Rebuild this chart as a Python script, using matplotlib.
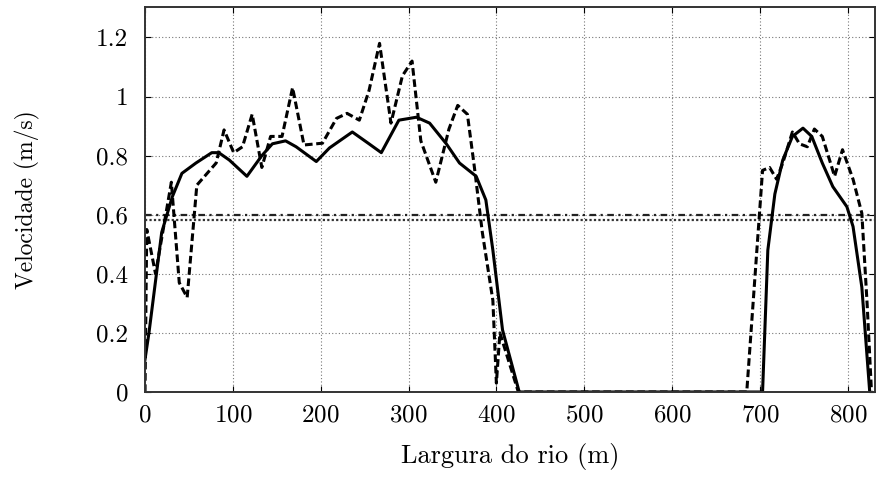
import matplotlib
matplotlib.use('Agg')
import matplotlib.pyplot as plt

plt.rcParams['font.family'] = 'cmr10'
plt.rcParams['axes.formatter.use_mathtext'] = True

# solid curve (smooth)
x_solid = [0, 4.5, 19, 31, 42, 58, 76, 84, 96, 116, 133, 145, 160, 172, 195, 210,
           236, 255, 269, 289, 309, 324, 343, 358, 377, 388, 396, 407, 426,
           700, 703, 709, 717, 726, 737, 749, 759, 771, 783, 799, 806, 816, 825]
y_solid = [0.11, 0.2, 0.54, 0.66, 0.74, 0.775, 0.81, 0.81, 0.785, 0.73, 0.80, 0.84, 0.85, 0.83, 0.78, 0.826,
           0.88, 0.84, 0.81, 0.92, 0.93, 0.91, 0.84, 0.775, 0.73, 0.65, 0.48, 0.21, 0.0,
           0.0, 0.0, 0.48, 0.67, 0.785, 0.865, 0.893, 0.865, 0.775, 0.695, 0.627, 0.56, 0.355, 0.0]

# dashed curve (measured)
x_dash = [0, 2, 12, 30, 39, 48, 59, 81, 90, 101, 111, 122, 133, 143, 156, 168, 181, 202,
          218, 230, 244, 255, 267, 280, 293, 304, 314, 331, 346, 356, 367, 375, 384,
          396, 400, 404, 425, 685, 703, 711, 719, 726, 737, 745, 754, 762, 771, 785,
          794, 806, 816, 822, 827]
y_dash = [0.0, 0.55, 0.40, 0.71, 0.37, 0.32, 0.70, 0.775, 0.887, 0.81, 0.83, 0.94, 0.76, 0.865, 0.865, 1.03, 0.836, 0.842,
          0.926, 0.943, 0.92, 1.02, 1.18, 0.91, 1.07, 1.12, 0.85, 0.71, 0.89, 0.97, 0.94, 0.76, 0.54,
          0.31, 0.03, 0.2, 0.0, 0.0, 0.75, 0.76, 0.72, 0.775, 0.88, 0.84, 0.83, 0.89, 0.865, 0.73,
          0.82, 0.72, 0.605, 0.3, 0.0]

ref_dashdot = 0.6
ref_dotted = 0.583

xticks = [0, 100, 200, 300, 400, 500, 600, 700, 800]
yticks = [0, 0.2, 0.4, 0.6, 0.8, 1.0, 1.2]
yticklabels = ['0', '0.2', '0.4', '0.6', '0.8', '1', '1.2']

fig = plt.figure(figsize=(8.76, 4.79), dpi=100)
ax = fig.add_axes([145/876, 1 - 392/479, 730/876, (392 - 7.3)/479])

ax.grid(True, linestyle=(0, (1, 2)), color='#777777', linewidth=0.8)
ax.axhline(ref_dotted, color='#333333', linestyle=(0, (1, 1)), linewidth=1.6)
ax.axhline(ref_dashdot, color='#222222', linestyle=(0, (3, 2, 1, 2)), linewidth=1.6)
ax.plot(x_dash, y_dash, color='black', linestyle=(0, (2.5, 1.2)), linewidth=2.2)
ax.plot(x_solid, y_solid, color='black', linestyle='-', linewidth=2.2)

ax.set_xlim(0, 831)
ax.set_ylim(0, 1.302)
ax.set_xticks(xticks)
ax.set_yticks(yticks)
ax.set_yticklabels(yticklabels)
ax.tick_params(direction='in', length=4, width=0.8, top=True, right=True,
               labelsize=18)
ax.tick_params(axis='y', pad=12)
ax.tick_params(axis='x', pad=9)
for s in ax.spines.values():
    s.set_linewidth(1.4)
    s.set_color('#333333')

ax.set_xlabel('Largura do rio (m)', fontsize=19)
ax.set_ylabel('Velocidade (m/s)', fontsize=17)
ax.xaxis.set_label_coords(0.5, -0.133)
ax.yaxis.set_label_coords(-0.144, 0.5)

fig.savefig('out.png', dpi=100)
